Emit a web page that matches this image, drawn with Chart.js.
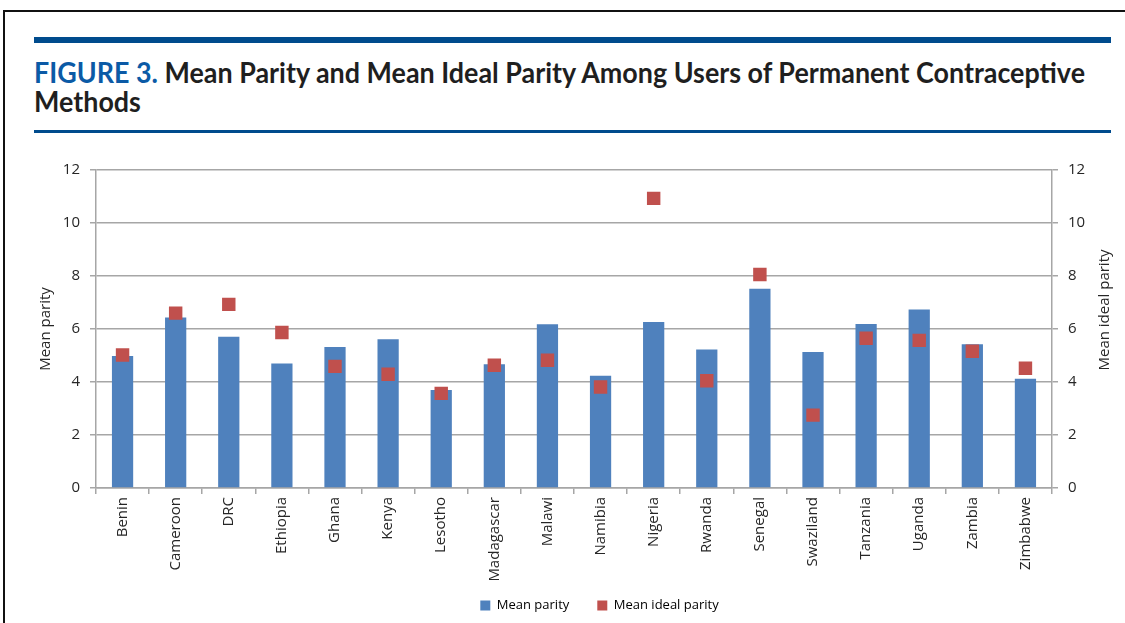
<!DOCTYPE html>
<html>
<head>
<meta charset="utf-8">
<script src="https://cdn.jsdelivr.net/npm/chart.js@4"></script>
<style>
  html, body { margin: 0; padding: 0; background: #fff; }
  body { width: 1125px; height: 623px; position: relative; overflow: hidden; }
  .frame-top { position: absolute; left: 3px; top: 10px; width: 1122px; height: 2px; background: #111; }
  .frame-left { position: absolute; left: 3px; top: 10px; width: 2px; height: 613px; background: #111; }
  .rule { position: absolute; left: 34px; width: 1077px; background: #004b8d; }
  .rule1 { top: 37px; height: 6px; }
  .rule2 { top: 130px; height: 3px; }
  .title { position: absolute; left: 34px; top: 58px;
           font-family: Lato, "Liberation Sans", sans-serif;
           font-weight: bold; font-size: 28px; line-height: 29px; color: #1f1f1f; }
  .title .line { display: block; white-space: nowrap; transform-origin: 0 0; width: max-content; }
  .title .fig { color: #0b5aa6; }
  #wrap { position: absolute; left: 0; top: 140px; width: 1125px; height: 483px; }
</style>
</head>
<body>
<div class="frame-top"></div>
<div class="frame-left"></div>
<div class="rule rule1"></div>
<div class="title">
  <span class="line" id="t1"><span class="fig">FIGURE 3.</span> Mean Parity and Mean Ideal Parity Among Users of Permanent Contraceptive</span>
  <span class="line" id="t2">Methods</span>
</div>
<div class="rule rule2"></div>
<div id="wrap"><canvas id="c"></canvas></div>
<script>
const categories = ["Benin","Cameroon","DRC","Ethiopia","Ghana","Kenya","Lesotho","Madagascar","Malawi","Namibia","Nigeria","Rwanda","Senegal","Swaziland","Tanzania","Uganda","Zambia","Zimbabwe"];
const meanParity = [4.98, 6.43, 5.71, 4.70, 5.32, 5.61, 3.70, 4.67, 6.18, 4.24, 6.26, 5.23, 7.52, 5.13, 6.19, 6.74, 5.42, 4.12];
const meanIdealParity = [5.02, 6.60, 6.93, 5.87, 4.59, 4.29, 3.57, 4.63, 4.82, 3.81, 10.93, 4.05, 8.06, 2.75, 5.65, 5.57, 5.16, 4.52];
const yTicks = [0, 2, 4, 6, 8, 10, 12];

// fit title line to reference width
(function () {
  const t1 = document.getElementById('t1'), t2 = document.getElementById('t2');
  const w = t1.getBoundingClientRect().width;
  const s = 1051 / w;
  t1.style.transform = 'scaleX(' + s + ')';
  t2.style.transform = 'scaleX(' + s + ')';
})();

const FONT = "'Open Sans', sans-serif";
const gridColor = "#a6a6a6";
const textColor = "#262626";

const rightTitle = {
  id: 'rightTitle',
  afterDraw(chart) {
    const ctx = chart.ctx;
    ctx.save();
    ctx.font = "15px " + FONT;
    ctx.fillStyle = textColor;
    ctx.textAlign = 'center';
    ctx.textBaseline = 'middle';
    ctx.translate(1105, 310 - 140);
    ctx.rotate(-Math.PI / 2);
    ctx.fillText('Mean ideal parity', 0, 0);
    ctx.restore();
  }
};

const shiftLegend = {
  id: 'shiftLegend',
  afterLayout(chart) {
    const lg = chart.legend;
    if (lg) { lg.left += 22; lg.right += 22; lg.top -= 17; lg.bottom -= 17; }
  }
};

new Chart(document.getElementById('c'), {
  type: 'bar',
  data: {
    labels: categories,
    datasets: [
      {
        label: 'Mean parity',
        data: meanParity,
        backgroundColor: '#4f81bd',
        borderColor: '#4f81bd',
        borderWidth: 0,
        barPercentage: 0.4,
        categoryPercentage: 1.0,
        yAxisID: 'y',
        order: 2
      },
      {
        type: 'line',
        label: 'Mean ideal parity',
        data: meanIdealParity,
        showLine: false,
        pointStyle: 'rect',
        pointRadius: 9.5,
        pointHoverRadius: 9.5,
        backgroundColor: '#c0504d',
        borderColor: '#c0504d',
        pointBorderWidth: 0,
        yAxisID: 'y1',
        order: 1
      }
    ]
  },
  plugins: [rightTitle, shiftLegend],
  options: {
    responsive: true,
    maintainAspectRatio: false,
    animation: false,
    layout: { padding: { top: 30, bottom: -16, left: 30, right: 0 } },
    plugins: {
      tooltip: { enabled: false },
      legend: {
        position: 'bottom',
        labels: {
          font: { family: FONT, size: 13 },
          color: textColor,
          boxWidth: 10,
          boxHeight: 10,
          padding: 28,
          generateLabels: (chart) => chart.data.datasets.map((ds, i) => ({
            text: ds.label,
            fillStyle: ds.backgroundColor,
            strokeStyle: ds.backgroundColor,
            lineWidth: 0,
            datasetIndex: i,
            hidden: false
          }))
        }
      }
    },
    scales: {
      x: {
        offset: true,
        grid: { display: true, drawOnChartArea: false, drawTicks: true, tickLength: 6, color: gridColor, lineWidth: 1.5, offset: true },
        border: { display: true, color: gridColor, width: 1.5 },
        ticks: { font: { family: FONT, size: 15 }, color: textColor, minRotation: 90, maxRotation: 90, autoSkip: false, padding: 3 },
        afterFit: (s) => { s.height = 100; }
      },
      y: {
        position: 'left',
        min: 0, max: 12,
        afterBuildTicks: (s) => { s.ticks = yTicks.map(v => ({ value: v })); },
        grid: { color: gridColor, lineWidth: 1.5, tickLength: 6 },
        border: { display: true, color: gridColor, width: 1.5 },
        ticks: { font: { family: FONT, size: 15 }, color: textColor, padding: 10 },
        title: { display: true, text: 'Mean parity', font: { family: FONT, size: 15 }, color: textColor, padding: { top: 7, bottom: 0 } },
        afterFit: (s) => { s.width = 66; }
      },
      y1: {
        position: 'right',
        min: 0, max: 12,
        afterBuildTicks: (s) => { s.ticks = yTicks.map(v => ({ value: v })); },
        grid: { drawOnChartArea: false, color: gridColor, lineWidth: 1.5, tickLength: 6 },
        border: { display: true, color: gridColor, width: 1.5 },
        ticks: { font: { family: FONT, size: 15 }, color: textColor, padding: 10 },
        afterFit: (s) => { s.width = 73; }
      }
    }
  }
});
</script>
</body>
</html>
